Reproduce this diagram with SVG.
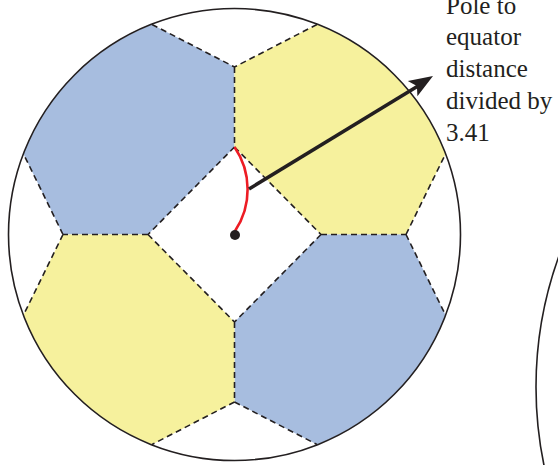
<svg xmlns="http://www.w3.org/2000/svg" width="558" height="465" viewBox="0 0 558 465">
  <style>
    .blue { fill: #a7bddf; }
    .yellow { fill: #f6f19d; }
    .seam { fill: none; stroke: #231f20; stroke-width: 1.6; stroke-dasharray: 6 4; }
    .outline { fill: none; stroke: #231f20; stroke-width: 1.6; }
    .label { font-family: "Liberation Serif", "Times New Roman", serif; font-size: 25px; fill: #231f20; }
  </style>
  <rect width="558" height="465" fill="#ffffff"/>

  <g id="patch-top-left">
    <path class="blue" d="M23.5,154 A226,226 0 0 1 152,24.5 L234.5,67 L234.5,147 L148,234.5 L63,234.5 Z"/>
  </g>
  <g id="patch-top-right">
    <path class="yellow" d="M317,24.5 A226,226 0 0 1 445.5,154 L406,234.5 L321,234.5 L234.5,147 L234.5,67 Z"/>
  </g>
  <g id="patch-bottom-right">
    <path class="blue" d="M445.5,315 A226,226 0 0 1 317,444.5 L234.5,402 L234.5,322 L321,234.5 L406,234.5 Z"/>
  </g>
  <g id="patch-bottom-left">
    <path class="yellow" d="M152,444.5 A226,226 0 0 1 23.5,315 L63,234.5 L148,234.5 L234.5,322 L234.5,402 Z"/>
  </g>

  <g id="seams">
    <path class="seam" d="M152,24.5 L234.5,67 M317,24.5 L234.5,67 M234.5,67 L234.5,147 M234.5,147 L148,234.5 M234.5,147 L321,234.5 M148,234.5 L63,234.5 M63,234.5 L23.5,154 M63,234.5 L23.5,315 M321,234.5 L406,234.5 M406,234.5 L445.5,154 M406,234.5 L445.5,315 M148,234.5 L234.5,322 M321,234.5 L234.5,322 M234.5,322 L234.5,402 M234.5,402 L152,444.5 M234.5,402 L317,444.5"/>
  </g>

  <g id="sphere">
    <circle class="outline" cx="234.5" cy="234.5" r="226"/>
  </g>
  <g id="second-sphere">
    <circle class="outline" cx="921" cy="387" r="385" stroke-width="1.8"/>
  </g>

  <g id="connectors">
    <path d="M234.5,147 A75,75 0 0 1 235,231" fill="none" stroke="#ed1c24" stroke-width="2.6"/>
    <line x1="249" y1="189" x2="418" y2="86" stroke="#231f20" stroke-width="3.6"/>
    <polygon points="433,76 417.4,96.3 416.9,86.1 407.8,81.1" fill="#231f20"/>
  </g>

  <g id="pole">
    <circle cx="235" cy="235" r="5" fill="#231f20"/>
  </g>

  <g id="label">
    <text class="label" x="446" y="14">Pole to</text>
    <text class="label" x="446" y="45">equator</text>
    <text class="label" x="446" y="77">distance</text>
    <text class="label" x="446" y="109">divided by</text>
    <text class="label" x="446" y="141">3.41</text>
  </g>
</svg>
